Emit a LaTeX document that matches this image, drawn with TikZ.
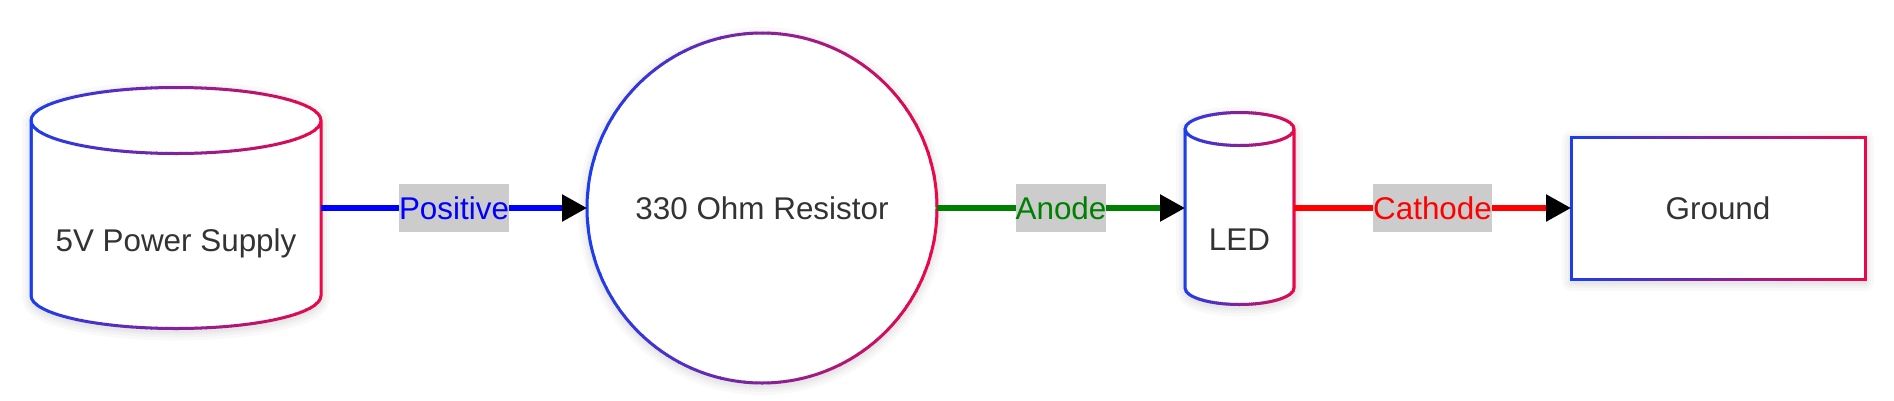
\documentclass[tikz,border=0pt]{standalone}
\usepackage{fontspec}
\setmainfont{Liberation Sans}
\usetikzlibrary{arrows.meta}
\definecolor{gB}{RGB}{24,62,240}
\definecolor{gR}{RGB}{238,6,70}
\definecolor{txt}{HTML}{333333}
\definecolor{lblbg}{HTML}{CCCCCC}
\definecolor{cgreen}{HTML}{008000}
\definecolor{cblue}{HTML}{0000FF}
\definecolor{cred}{HTML}{FF0000}

% gradient (blue -> red, left to right) stroke of a path, drawn in clipped vertical strips
\newcommand\gstroke[3]{%
  \foreach \k in {0,...,59}{%
    \pgfmathsetmacro\sw{(#2-#1+8)/60}%
    \pgfmathsetmacro\xa{#1-4+\sw*\k}%
    \pgfmathsetmacro\xb{\xa+\sw+0.7}%
    \pgfmathtruncatemacro\pc{round((\k+0.5)*100/60)}%
    \begin{scope}
      \clip (\xa,-10) rectangle (\xb,410);
      \draw[line width=3pt, color=gR!\pc!gB] #3;
    \end{scope}
  }%
}
% soft shadow below a closed path
\newcommand\sshadow[1]{%
  \begin{scope}[shift={(0,3)}]
    \foreach \w in {18,12,7,3}{\draw[line width=\w pt, black, opacity=0.022, line join=round] #1;}
  \end{scope}%
}

\tikzset{
  shapetext/.style={text=txt, font=\fontsize{31.4}{36}\selectfont, inner sep=0pt, outer sep=0pt},
  lbl/.style={fill=lblbg, font=\fontsize{31.4}{36}\selectfont, inner xsep=0pt, inner ysep=0pt, minimum height=48pt},
  wire/.style={line width=5.5pt, -{Triangle[length=25pt,width=26pt,color=black]}},
}

\begin{document}
\begin{tikzpicture}[x=1pt,y=-1pt]
\fill[white] (0,0) rectangle (1894,400);
\useasboundingbox (0,0) rectangle (1894,400);

% ---------- 5V Power Supply (cylinder) ----------
\sshadow{(31,120.5) arc[start angle=180,end angle=360,x radius=145,y radius=33] -- (321,295.5) arc[start angle=0,end angle=180,x radius=145,y radius=33] -- cycle}
\fill[white] (31,120.5) arc[start angle=180,end angle=360,x radius=145,y radius=33] -- (321,295.5) arc[start angle=0,end angle=180,x radius=145,y radius=33] -- cycle;
\gstroke{31}{321}{(31,120.5) arc[start angle=180,end angle=360,x radius=145,y radius=33] -- (321,295.5) arc[start angle=0,end angle=180,x radius=145,y radius=33] -- cycle (176,120.5) ellipse[x radius=145,y radius=33]}

% ---------- 330 Ohm Resistor (circle) ----------
\sshadow{(762,208) circle[radius=175]}
\fill[white] (762,208) circle[radius=175];
\gstroke{587}{937}{(762,208) circle[radius=175]}

% ---------- LED (small cylinder) ----------
\sshadow{(1185,129) arc[start angle=180,end angle=360,x radius=54.5,y radius=16.5] -- (1294,288) arc[start angle=0,end angle=180,x radius=54.5,y radius=16.5] -- cycle}
\fill[white] (1185,129) arc[start angle=180,end angle=360,x radius=54.5,y radius=16.5] -- (1294,288) arc[start angle=0,end angle=180,x radius=54.5,y radius=16.5] -- cycle;
\gstroke{1185}{1294}{(1185,129) arc[start angle=180,end angle=360,x radius=54.5,y radius=16.5] -- (1294,288) arc[start angle=0,end angle=180,x radius=54.5,y radius=16.5] -- cycle (1239.5,129) ellipse[x radius=54.5,y radius=16.5]}

% ---------- Ground (rectangle) ----------
\sshadow{(1571,137) rectangle (1865,279)}
\fill[white] (1571,137) rectangle (1865,279);
\gstroke{1571}{1865}{(1571,137) rectangle (1865,279)}

% ---------- nodes (text and anchors) ----------
\node[shapetext, minimum width=290pt, minimum height=241pt] (psu) at (176,208) {\raisebox{-43pt}[0pt][0pt]{5V Power Supply}};
\node[shapetext, circle, minimum size=350pt] (res) at (762,208) {330 Ohm Resistor};
\node[shapetext, minimum width=109pt, minimum height=192pt] (led) at (1239.5,208) {\raisebox{-42.5pt}[0pt][0pt]{LED}};
\node[shapetext, minimum width=294pt, minimum height=142pt] (gnd) at (1718,208) {Ground};

% ---------- connectors ----------
\draw[wire, cblue] (psu.east) -- node[lbl, text=cblue] {Positive} (res.west);
\draw[wire, cgreen] (res.east) -- node[lbl, text=cgreen] {Anode} (led.west);
\draw[wire, cred] (led.east) -- node[lbl, text=cred] {Cathode} (gnd.west);
\end{tikzpicture}
\end{document}
